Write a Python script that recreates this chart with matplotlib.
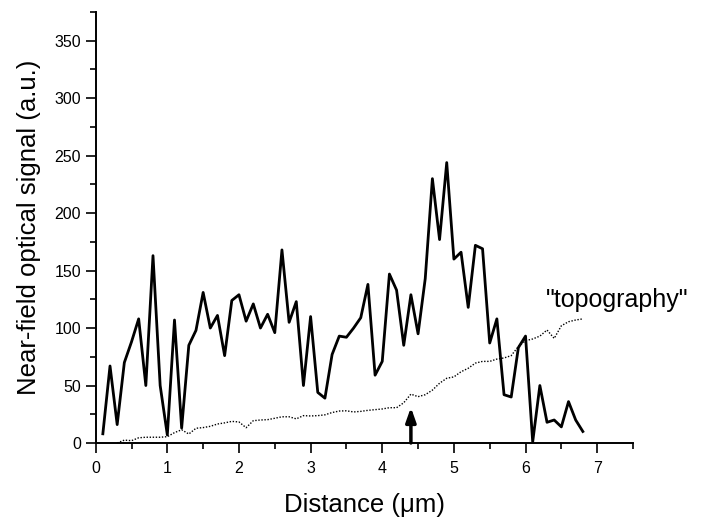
import numpy as np
import matplotlib
matplotlib.use("Agg")
import matplotlib.pyplot as plt
from matplotlib.ticker import MultipleLocator

plt.rcParams['font.family'] = ['Liberation Sans', 'DejaVu Sans']

# near-field optical signal, sampled every 0.1 um
signal_x = [0.1, 0.2, 0.3, 0.4, 0.5, 0.6, 0.7, 0.8, 0.9, 1.0,
            1.1, 1.2, 1.3, 1.4, 1.5, 1.6, 1.7, 1.8, 1.9, 2.0,
            2.1, 2.2, 2.3, 2.4, 2.5, 2.6, 2.7, 2.8, 2.9, 3.0,
            3.1, 3.2, 3.3, 3.4, 3.5, 3.6, 3.7, 3.8, 3.9, 4.0,
            4.1, 4.2, 4.3, 4.4, 4.5, 4.6, 4.7, 4.8, 4.9, 5.0,
            5.1, 5.2, 5.3, 5.4, 5.5, 5.6, 5.7, 5.8, 5.9, 6.0,
            6.1, 6.2, 6.3, 6.4, 6.5, 6.6, 6.7, 6.8]
signal_y = [8, 67, 16, 70, 88, 108, 50, 163, 50, 7,
            107, 13, 85, 98, 131, 100, 111, 76, 124, 129,
            106, 121, 100, 112, 96, 168, 105, 123, 50, 110,
            44, 39, 77, 93, 92, 100, 109, 138, 59, 71,
            147, 133, 85, 129, 95, 143, 230, 177, 244, 160,
            166, 118, 172, 169, 87, 108, 42, 40, 83, 93,
            1, 50, 18, 20, 14, 36, 20, 10]

# topography trace
topo_x = [0.3, 0.4, 0.5, 0.6, 0.7, 0.8, 0.9, 1.0,
          1.1, 1.2, 1.3, 1.4, 1.5, 1.6, 1.7, 1.8, 1.9, 2.0,
          2.1, 2.2, 2.3, 2.4, 2.5, 2.6, 2.7, 2.8, 2.9, 3.0,
          3.1, 3.2, 3.3, 3.4, 3.5, 3.6, 3.7, 3.8, 3.9, 4.0,
          4.1, 4.2, 4.3, 4.4, 4.5, 4.6, 4.7, 4.8, 4.9, 5.0,
          5.1, 5.2, 5.3, 5.4, 5.5, 5.6, 5.7, 5.8, 5.9, 6.0,
          6.1, 6.2, 6.3, 6.4, 6.5, 6.6, 6.7, 6.8]
topo_y = [0, 2.5, 2, 4.5, 5, 5, 5, 5.5,
          9, 11.5, 7.8, 12.8, 13.4, 14.5, 16.5, 17.5, 18.8, 18.3,
          13.3, 19.4, 20, 20.3, 21.5, 22.8, 22.8, 21, 23.8, 23.5,
          23.8, 24.5, 26.5, 27.8, 28, 27, 27.5, 28.4, 29, 29.6,
          30.7, 30.7, 35, 42.5, 40.3, 42, 46, 52, 56.3, 57.5,
          62, 65, 69.5, 71, 71, 73, 74, 76, 84, 89,
          90.5, 93, 98.3, 91, 102, 105.5, 107, 108]

arrow_x = 4.4
arrow_top = 31

fig = plt.figure(figsize=(7.02, 5.23), dpi=100)
ax = fig.add_axes([0.1363, 0.153, 0.7654, 0.824])

ax.plot(signal_x, signal_y, color='black', lw=2.0)
ax.plot(topo_x, topo_y, color='black', lw=1.0, linestyle=(0, (1, 1.2)))

ax.annotate('', xy=(arrow_x, arrow_top), xytext=(arrow_x, 0),
            arrowprops=dict(arrowstyle='-|>,head_length=0.85,head_width=0.3',
                            lw=2.5, color='black', shrinkA=0, shrinkB=0,
                            mutation_scale=10))

ax.text(6.29, 124, '"topography"', fontsize=18, va='center', ha='left')

ax.set_xlim(0, 7.5)
ax.set_ylim(0, 375)
ax.xaxis.set_major_locator(MultipleLocator(1))
ax.xaxis.set_minor_locator(MultipleLocator(0.5))
ax.yaxis.set_major_locator(MultipleLocator(50))
ax.yaxis.set_minor_locator(MultipleLocator(25))

for side in ['top', 'right']:
    ax.spines[side].set_visible(False)
for side in ['left', 'bottom']:
    ax.spines[side].set_linewidth(1.4)

ax.tick_params(which='major', length=7, width=1.2, labelsize=11.5, pad=3.5)
ax.tick_params(which='minor', length=4, width=1.2)
ax.tick_params(axis='x', which='major', pad=6)

ax.set_xlabel('Distance (\u03bcm)', fontsize=18.5, labelpad=12)
ax.set_ylabel('Near-field optical signal (a.u.)', fontsize=18.5, labelpad=10)

fig.savefig('out.png', dpi=100)
